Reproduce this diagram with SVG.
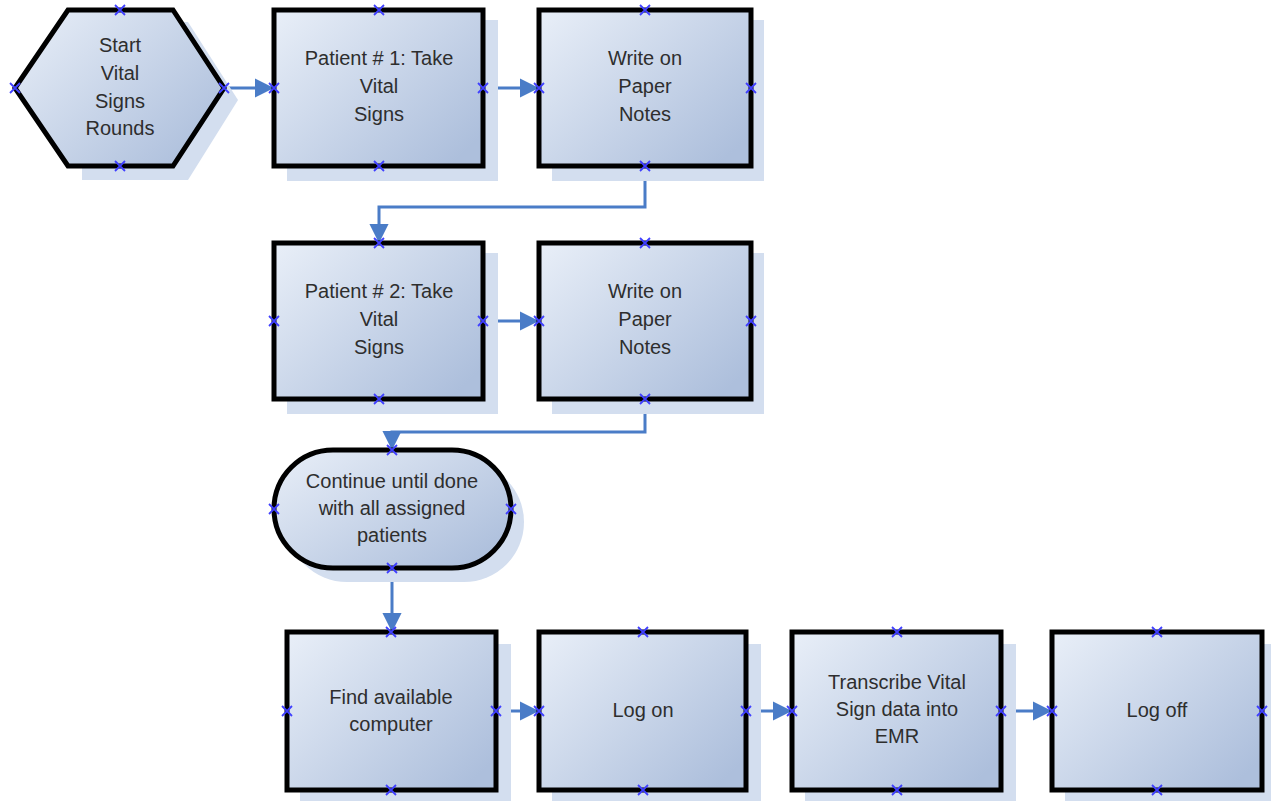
<svg xmlns="http://www.w3.org/2000/svg" width="1271" height="801" viewBox="0 0 1271 801">
<style>
.sh{fill:#d3deef;stroke:none}
.nd{fill:url(#g);stroke:#000;stroke-width:5;stroke-linejoin:miter}
.tx{font-family:"Liberation Sans",Arial,Helvetica,sans-serif;font-size:20px;fill:#2e2e2e;text-anchor:middle}
.cn{fill:none;stroke:#4a7cc7;stroke-width:3;marker-end:url(#ah)}
.mk{stroke:#4040ff;stroke-width:1.8;fill:none}
</style>
<defs>
<linearGradient id="g" x1="0" y1="0" x2="1" y2="0.8">
<stop offset="0" stop-color="#e9eff8"/>
<stop offset="1" stop-color="#adbfdc"/>
</linearGradient>
<marker id="ah" markerWidth="6.5" markerHeight="6.5" refX="5.8" refY="3.25" orient="auto" markerUnits="strokeWidth">
<path d="M0,0 L6.5,3.25 L0,6.5 Z" fill="#4a7cc7"/>
</marker>
<g id="x"><path class="mk" d="M-5,-5 L5,5 M-5,5 L5,-5"/></g>
</defs>

<g id="connectors">
<path class="cn" d="M224,88 H272"/>
<path class="cn" d="M483,88 H537"/>
<path class="cn" d="M645,166 V207 H379 V241"/>
<path class="cn" d="M483,321 H537"/>
<path class="cn" d="M645,399 V432 H392 V448"/>
<path class="cn" d="M392,568 V630"/>
<path class="cn" d="M496,711 H537"/>
<path class="cn" d="M746,711 H790"/>
<path class="cn" d="M1001,711 H1050"/>
</g>

<g id="start">
<polygon class="sh" points="82,22 188,22 238,100 188,180 82,180"/>
<polygon class="nd" points="15,88 68,10 173,10 224,88 173,166 68,166"/>
<text class="tx" x="120" y="52">Start</text>
<text class="tx" x="120" y="80">Vital</text>
<text class="tx" x="120" y="108">Signs</text>
<text class="tx" x="120" y="135">Rounds</text>
<use href="#x" x="120" y="10"/><use href="#x" x="120" y="166"/><use href="#x" x="15" y="88"/><use href="#x" x="224" y="88"/>
</g>

<g id="patient1">
<rect class="sh" x="287" y="20" width="211" height="161"/>
<rect class="nd" x="274" y="10" width="209" height="156"/>
<text class="tx" x="379" y="65">Patient # 1: Take</text>
<text class="tx" x="379" y="93">Vital</text>
<text class="tx" x="379" y="121">Signs</text>
<use href="#x" x="379" y="10"/><use href="#x" x="379" y="166"/><use href="#x" x="274" y="88"/><use href="#x" x="483" y="88"/>
</g>

<g id="write1">
<rect class="sh" x="552" y="20" width="212" height="161"/>
<rect class="nd" x="539" y="10" width="212" height="156"/>
<text class="tx" x="645" y="65">Write on</text>
<text class="tx" x="645" y="93">Paper</text>
<text class="tx" x="645" y="121">Notes</text>
<use href="#x" x="645" y="10"/><use href="#x" x="645" y="166"/><use href="#x" x="539" y="88"/><use href="#x" x="751" y="88"/>
</g>

<g id="patient2">
<rect class="sh" x="287" y="253" width="211" height="161"/>
<rect class="nd" x="274" y="243" width="209" height="156"/>
<text class="tx" x="379" y="298">Patient # 2: Take</text>
<text class="tx" x="379" y="326">Vital</text>
<text class="tx" x="379" y="354">Signs</text>
<use href="#x" x="379" y="243"/><use href="#x" x="379" y="399"/><use href="#x" x="274" y="321"/><use href="#x" x="483" y="321"/>
</g>

<g id="write2">
<rect class="sh" x="552" y="253" width="212" height="161"/>
<rect class="nd" x="539" y="243" width="212" height="156"/>
<text class="tx" x="645" y="298">Write on</text>
<text class="tx" x="645" y="326">Paper</text>
<text class="tx" x="645" y="354">Notes</text>
<use href="#x" x="645" y="243"/><use href="#x" x="645" y="399"/><use href="#x" x="539" y="321"/><use href="#x" x="751" y="321"/>
</g>

<g id="continue">
<rect class="sh" x="287" y="462" width="237" height="120" rx="60" ry="60"/>
<rect class="nd" x="274" y="450" width="237" height="118" rx="59" ry="59"/>
<text class="tx" x="392" y="488">Continue until done</text>
<text class="tx" x="392" y="515">with all assigned</text>
<text class="tx" x="392" y="542">patients</text>
<use href="#x" x="392" y="450"/><use href="#x" x="392" y="568"/><use href="#x" x="274" y="509"/><use href="#x" x="511" y="509"/>
</g>

<g id="find">
<rect class="sh" x="300" y="644" width="211" height="157"/>
<rect class="nd" x="287" y="632" width="209" height="158"/>
<text class="tx" x="391" y="704">Find available</text>
<text class="tx" x="391" y="731">computer</text>
<use href="#x" x="391" y="632"/><use href="#x" x="391" y="790"/><use href="#x" x="287" y="711"/><use href="#x" x="496" y="711"/>
</g>

<g id="logon">
<rect class="sh" x="552" y="644" width="209" height="157"/>
<rect class="nd" x="539" y="632" width="207" height="158"/>
<text class="tx" x="643" y="717">Log on</text>
<use href="#x" x="643" y="632"/><use href="#x" x="643" y="790"/><use href="#x" x="539" y="711"/><use href="#x" x="746" y="711"/>
</g>

<g id="transcribe">
<rect class="sh" x="805" y="644" width="211" height="157"/>
<rect class="nd" x="792" y="632" width="209" height="158"/>
<text class="tx" x="897" y="689">Transcribe Vital</text>
<text class="tx" x="897" y="716">Sign data into</text>
<text class="tx" x="897" y="743">EMR</text>
<use href="#x" x="897" y="632"/><use href="#x" x="897" y="790"/><use href="#x" x="792" y="711"/><use href="#x" x="1001" y="711"/>
</g>

<g id="logoff">
<rect class="sh" x="1065" y="644" width="206" height="157"/>
<rect class="nd" x="1052" y="632" width="210" height="158"/>
<text class="tx" x="1157" y="717">Log off</text>
<use href="#x" x="1157" y="632"/><use href="#x" x="1157" y="790"/><use href="#x" x="1052" y="711"/><use href="#x" x="1262" y="711"/>
</g>
</svg>
